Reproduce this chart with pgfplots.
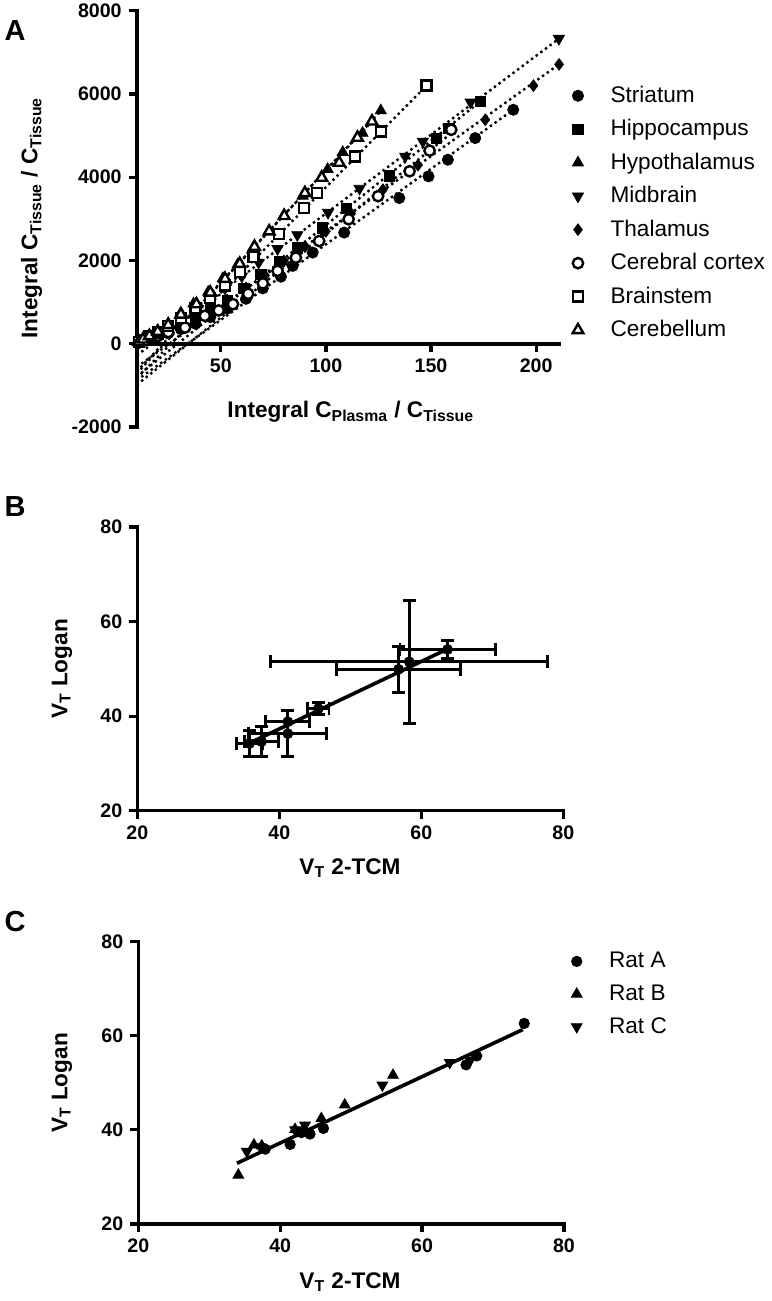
\documentclass[border=0pt]{standalone}
\usepackage{fontspec}
\setmainfont{Liberation Sans}
\usepackage{pgfplots}
\pgfplotsset{compat=1.18}
\pgfplotsset{
  prism/.style={
    scale only axis, clip=false,
    axis line style={line width=1.8pt, line cap=rect},
    tick style={line width=1.6pt, black},
    major tick length=4pt,
    tick align=outside,
    ticklabel style={font=\fontsize{9.8}{10}\selectfont\bfseries},
    legend cell align=left,
  },
  filledmark/.style={only marks, mark options={solid, fill=black, draw=black}},
  openmark/.style={only marks, mark options={solid, fill=white, draw=black, line width=1.2pt}},
  regline/.style={black, line width=1.2pt, dash pattern=on 1.2pt off 1.7pt, forget plot},
}
\newcommand{\legsp}{\hspace*{11.5pt}}
\begin{document}
\begin{tikzpicture}
\useasboundingbox (0,0) rectangle (385.5pt,650.5pt);
% ---------------- Panel A ----------------
\begin{axis}[prism,
  at={(68.35pt,437pt)}, anchor=south west,
  width=211.3pt, height=208.15pt,
  axis x line*=middle, axis y line*=left,
  hide obscured x ticks=false, hide obscured y ticks=false,
  xmin=10, xmax=211, ymin=-2000, ymax=8000,
  xtick={50,100,150,200}, xticklabels={50,100,150,200},
  ytick={-2000,0,2000,4000,6000,8000}, yticklabels={-2000,0,2000,4000,6000,8000},
  legend style={draw=none, fill=none, at={(axis description cs:1.030,0.8295)}, anchor=north west,
    font=\fontsize{11.3}{12}\selectfont, row sep=3.05pt, inner sep=0pt},
]
\addplot[filledmark, mark=*, mark size=2.8pt] coordinates {(11,25)(13,60)(16,110)(20,170)(25,250)(31,350)(38,480)(45,640)(53,840)(62,1080)(70,1330)(78.6,1610)(84.2,1870)(93.7,2190)(108.7,2670)(134.9,3500)(148.8,4020)(158,4420)(171,4940)(189.1,5620)};
\addlegendentry{\legsp Striatum}
\addplot[filledmark, mark=square*, mark size=2.6pt] coordinates {(11,35)(13,80)(16,140)(20,220)(25,330)(31,470)(38,640)(45,850)(53,1030)(61,1330)(69,1660)(78,1980)(86.4,2300)(98.4,2780)(109.6,3250)(130.3,4030)(152.5,4930)(158.5,5170)(173.4,5820)};
\addlegendentry{\legsp Hippocampus}
\addplot[filledmark, mark=triangle*, mark size=3.2pt] coordinates {(11,55)(13,120)(16,200)(20,320)(25,490)(31,740)(37,960)(44,1240)(51,1570)(58,1900)(65,2260)(73,2700)(80,3090)(88.9,3550)(100.8,4190)(108,4600)(117.4,5060)(126.1,5600)};
\addlegendentry{\legsp Hypothalamus}
\addplot[filledmark, mark=triangle*, mark size=3.2pt, mark options={rotate=180}] coordinates {(11,40)(13,90)(16,160)(20,260)(25,380)(31,560)(38,800)(45,1060)(52,1330)(60,1620)(68,1950)(77,2280)(86.4,2614)(101,3150)(116,3730)(137.7,4500)(146.1,4860)(168.8,5800)(210.8,7330)};
\addlegendentry{\legsp Midbrain}
\addplot[filledmark, mark=diamond*, mark size=2.9pt] coordinates {(11,30)(13,70)(16,130)(20,200)(25,300)(31,430)(38,590)(45,790)(53,1050)(62,1340)(71,1640)(80,1990)(90,2330)(100,2700)(112,3130)(127.1,3700)(143.8,4290)(175.8,5380)(198.7,6200)(210.9,6710)};
\addlegendentry{\legsp Thalamus}
\addplot[openmark, mark=*, mark size=2.6pt] coordinates {(11,30)(13,70)(16,120)(20,190)(25,280)(33,390)(42.4,670)(49,800)(55.8,950)(63,1200)(70,1450)(77,1750)(85.7,2068)(96.8,2467)(110.8,2990)(124.8,3545)(139.8,4143)(149.3,4639)(159.6,5140)};
\addlegendentry{\legsp Cerebral cortex}
\addplot[openmark, mark=square*, mark size=2.5pt] coordinates {(11,40)(13,95)(16,170)(20,270)(25,420)(31,620)(38,860)(45,1100)(52,1400)(59,1720)(65.5,2080)(77.8,2630)(89.7,3265)(95.7,3625)(113.9,4500)(126.1,5100)(147.9,6200)};
\addlegendentry{\legsp Brainstem}
\addplot[openmark, mark=triangle*, mark size=3.1pt] coordinates {(11,45)(13,105)(16,185)(20,290)(25,450)(31,700)(38.4,950)(45,1230)(52,1560)(59,1920)(66,2330)(73,2700)(80.2,3070)(90,3620)(98,3990)(106.3,4350)(115,4950)(121.9,5340)};
\addlegendentry{\legsp Cerebellum}
\addplot[regline] coordinates {(10,-881)(189.6,5639)};
\addplot[regline] coordinates {(10,-791)(173.4,5820)};
\addplot[regline] coordinates {(10,-715)(126.3,5600)};
\addplot[regline] coordinates {(10,-280)(210.8,7326)};
\addplot[regline] coordinates {(10,-560)(211,6716)};
\addplot[regline] coordinates {(10,-989)(160,5071)};
\addplot[regline] coordinates {(10,-831)(148,6207)};
\addplot[regline] coordinates {(10,-670)(122,5344)};
\end{axis}
\node[rotate=90, font=\fontsize{11.3}{12}\selectfont\bfseries] at (15.85pt,541.5pt) {Integral C\textsubscript{Tissue} / C\textsubscript{Tissue}};
\node[font=\fontsize{11.3}{12}\selectfont\bfseries] at (175.4pt,444.65pt) {Integral C\textsubscript{Plasma} / C\textsubscript{Tissue}};
\node[font=\fontsize{14.5}{15}\selectfont\bfseries] at (7.5pt,635pt) {A};
% ---------------- Panel B ----------------
\begin{axis}[prism,
  at={(68.65pt,245.15pt)}, anchor=south west,
  width=213pt, height=141.85pt,
  axis lines*=left,
  xmin=20, xmax=80, ymin=20, ymax=80,
  xtick={20,40,60,80}, xticklabels={20,40,60,80},
  ytick={20,40,60,80}, yticklabels={20,40,60,80},
]
\addplot[black, only marks, mark=*, mark size=2.5pt,
  error bars/.cd, x dir=both, x explicit, y dir=both, y explicit,
  error bar style={line width=1.4pt, black},
  error mark options={rotate=90, line width=1.4pt, mark size=3.2pt, black}]
  coordinates {
  (35.8,34.2) +- (1.8,2.8)
  (37.5,34.6) +- (2.4,3.2)
  (41.2,38.8) +- (3.1,2.5)
  (41.2,36.3) +- (5.5,4.9)
  (45.5,41.6) +- (1.5,1.2)
  (56.8,49.9) +- (8.7,4.9)
  (58.3,51.5) +- (19.5,13.0)
  (63.7,54.1) +- (6.7,1.9)
  };
\addplot[black, line width=1.8pt] coordinates {(35.8,34.3)(63.7,54.2)};
\end{axis}
\node[rotate=90, font=\fontsize{11.3}{12}\selectfont\bfseries] at (31pt,316pt) {V\textsubscript{T} Logan};
\node[font=\fontsize{11.3}{12}\selectfont\bfseries] at (175pt,216.5pt) {V\textsubscript{T} 2-TCM};
\node[font=\fontsize{14.5}{15}\selectfont\bfseries] at (7.5pt,397pt) {B};
% ---------------- Panel C ----------------
\begin{axis}[prism,
  at={(69.15pt,38.5pt)}, anchor=south west,
  width=212.85pt, height=141.25pt,
  axis lines*=left,
  xmin=20, xmax=80, ymin=20, ymax=80,
  xtick={20,40,60,80}, xticklabels={20,40,60,80},
  ytick={20,40,60,80}, yticklabels={20,40,60,80},
  legend style={draw=none, fill=none, at={(axis description cs:1.0164,0.978)}, anchor=north west,
    font=\fontsize{11.3}{12}\selectfont, row sep=3.05pt, inner sep=0pt},
]
\addplot[filledmark, mark=*, mark size=2.6pt] coordinates {(74.4,62.6)(67.7,55.7)(66.2,53.8)(46.1,40.3)(44.2,39.1)(43.0,39.4)(41.4,36.9)(37.9,35.9)};
\addlegendentry{\legsp Rat A}
\addplot[filledmark, mark=triangle*, mark size=3.1pt] coordinates {(34.1,30.4)(36.3,36.8)(37.4,36.6)(42.1,40.1)(43.4,40.3)(45.8,42.4)(49.1,45.3)(55.9,51.6)};
\addlegendentry{\legsp Rat B}
\addplot[filledmark, mark=triangle*, mark size=3.1pt, mark options={rotate=180}] coordinates {(35.3,35.4)(37.2,36.4)(42.1,40.0)(43.5,41.0)(43.8,39.6)(54.4,49.5)(63.9,54.3)(66.8,54.8)};
\addlegendentry{\legsp Rat C}
\addplot[black, line width=1.8pt, forget plot] coordinates {(33.9,32.9)(74.2,61.3)};
\end{axis}
\node[rotate=90, font=\fontsize{11.3}{12}\selectfont\bfseries] at (31pt,109pt) {V\textsubscript{T} Logan};
\node[font=\fontsize{11.3}{12}\selectfont\bfseries] at (175pt,9.5pt) {V\textsubscript{T} 2-TCM};
\node[font=\fontsize{14.5}{15}\selectfont\bfseries] at (7.5pt,189.75pt) {C};
\end{tikzpicture}
\end{document}
